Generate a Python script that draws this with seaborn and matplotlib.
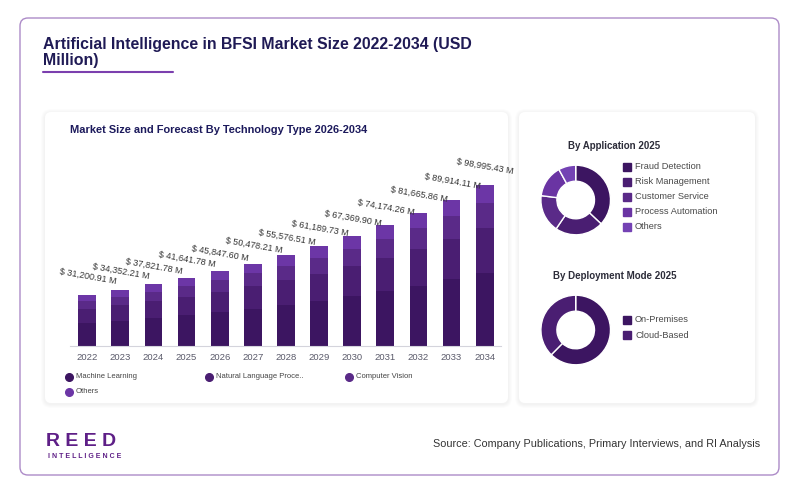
import matplotlib
matplotlib.use('Agg')
import matplotlib.pyplot as plt
from matplotlib.patches import FancyBboxPatch
import seaborn as sns
import pandas as pd

# --- data ---
years = ['2022', '2023', '2024', '2025', '2026', '2027', '2028',
         '2029', '2030', '2031', '2032', '2033', '2034']
totals = [31200.91, 34352.21, 37821.78, 41641.78, 45847.60, 50478.21, 55576.51,
          61189.73, 67369.90, 74174.26, 81665.86, 89914.11, 98995.43]
machine_learning = [13980, 15410, 16990, 18730, 20650, 22760, 25090,
                    27650, 30470, 33590, 37020, 40800, 44940]
natural_language = [8520, 9390, 10350, 11410, 12570, 13850, 15260,
                    16810, 18520, 20390, 22460, 24720, 27320]
computer_vision = [4870, 5370, 5920, 6520, 7190, 7920, 8730,
                   9610, 10590, 11670, 12850, 14150, 15840]
others = [3830.91, 4182.21, 4561.78, 4981.78, 5437.60, 5948.21, 6496.51,
          7119.73, 7789.90, 8524.26, 9335.86, 10244.11, 10895.43]
tech_labels = ['Machine Learning', 'Natural Language Proce..', 'Computer Vision', 'Others']

app_labels = ['Fraud Detection', 'Risk Management', 'Customer Service',
              'Process Automation', 'Others']
app_shares = [37.0, 22.5, 17.5, 15.0, 8.0]
dep_labels = ['On-Premises', 'Cloud-Based']
dep_shares = [62.4, 37.6]

seg_colors = ['#3c1561', '#4a1e72', '#5a2a88', '#6c36a6']
app_colors = ['#3c1561', '#4a1e72', '#5a2a88', '#6a34a3', '#7442b4']
dep_colors = ['#3c1561', '#4a1e72']

sns.set_style('white')
plt.rcParams['font.family'] = ['Liberation Sans', 'DejaVu Sans']

W, H = 800, 493
fig = plt.figure(figsize=(8, 4.93), dpi=100)
fig.patch.set_facecolor('white')

# background canvas in pixel units
bg = fig.add_axes([0, 0, 1, 1], zorder=0)
bg.set_xlim(0, W)
bg.set_ylim(H, 0)
bg.axis('off')


def box(x0, y0, x1, y1, r, fc, ec='none', lw=0, z=1, alpha=1):
    bg.add_patch(FancyBboxPatch((x0, y0), x1 - x0, y1 - y0,
                                boxstyle=f'round,pad=0,rounding_size={r}',
                                fc=fc, ec=ec, lw=lw, zorder=z, alpha=alpha))


box(20, 18, 779, 475, 8, 'white', ec='#ad8bc8', lw=1)
for (x0, y0, x1, y1) in [(45, 112, 508, 403), (519, 112, 755, 403)]:
    for k in range(4, 0, -1):
        box(x0 - k, y0 - k + 1, x1 + k, y1 + k + 1, 6 + k, '#000000', z=2, alpha=0.012)
    box(x0, y0, x1, y1, 6, 'white', z=3)

bg.text(43, 44, 'Artificial Intelligence in BFSI Market Size 2022-2034 (USD',
        fontsize=11.4, fontweight='bold', color='#1f1a55', va='center')
bg.text(43, 60.5, 'Million)', fontsize=11.4, fontweight='bold', color='#1f1a55',
        va='center')
bg.plot([43, 173], [72, 72], color='#7b3fae', lw=1.5)

bg.text(70.5, 130, 'Market Size and Forecast By Technology Type 2026-2034',
        fontsize=7.9, fontweight='bold', color='#1c1a5c', va='center', zorder=5)

# --- stacked bars ---
df = pd.DataFrame({'year': years, 'ml': machine_learning, 'nlp': natural_language,
                   'cv': computer_vision, 'oth': others})
df['l1'] = df['ml']
df['l2'] = df['l1'] + df['nlp']
df['l3'] = df['l2'] + df['cv']
df['l4'] = df['l3'] + df['oth']

ax = fig.add_axes([0.0875, 0.2988, 0.539, 0.397], zorder=4)
ax.patch.set_alpha(0)
for col, c in zip(['l4', 'l3', 'l2', 'l1'], seg_colors[::-1]):
    sns.barplot(data=df, x='year', y=col, color=c, width=0.535, saturation=1,
                edgecolor='none', linewidth=0, ax=ax)

for i, t in enumerate(totals):
    ax.annotate(f'$ {t:,.2f} M', (i, t), xytext=(0, 10), textcoords='offset points',
                ha='center', va='bottom', rotation=-10, rotation_mode='anchor',
                fontsize=6.5, color='#333333', annotation_clip=False)

ax.set_xlim(-0.52, 12.5)
ax.set_ylim(0, 120550)
ax.set_xlabel('')
ax.set_ylabel('')
ax.set_yticks([])
for s in ['top', 'right', 'left']:
    ax.spines[s].set_visible(False)
ax.spines['bottom'].set_color('#d4d4dc')
ax.tick_params(axis='x', length=0, pad=5.5, labelsize=6.8, labelcolor='#5a5a6a')

leg_pos = [(69, 376.7), (209, 376.7), (349, 376.7), (69, 391.7)]
for (x, y), lab, c in zip(leg_pos, tech_labels, seg_colors):
    bg.plot(x, y, 'o', ms=5.5, color=c, zorder=5)
    bg.text(x + 7, y, lab, fontsize=5.5, color='#444444', va='center', zorder=5)

# --- donuts ---
def donut(cx, cy, r, shares, colors):
    a = fig.add_axes([(cx - r) / W, (H - cy - r) / H, 2 * r / W, 2 * r / H], zorder=4)
    a.pie(shares, colors=colors, startangle=90, counterclock=False, radius=1,
          wedgeprops=dict(width=0.46, edgecolor='white', linewidth=1))
    a.set_xlim(-1.02, 1.02)
    a.set_ylim(-1.02, 1.02)
    return a


donut(575.7, 200, 35.5, app_shares, app_colors)
donut(575.7, 330, 35.5, dep_shares, dep_colors)

bg.text(614.5, 145.7, 'By Application 2025', ha='center', va='center', fontsize=7,
        fontweight='bold', color='#2d2d3a', zorder=5)
bg.text(615, 275.7, 'By Deployment Mode 2025', ha='center', va='center', fontsize=7,
        fontweight='bold', color='#2d2d3a', zorder=5)

for i, (lab, c) in enumerate(zip(app_labels, app_colors)):
    y = 166.7 + 15 * i
    bg.plot(627, y, 's', ms=6, color=c, zorder=5)
    bg.text(635, y, lab, fontsize=6.7, color='#4a4a4a', va='center', zorder=5)
for i, (lab, c) in enumerate(zip(dep_labels, dep_colors)):
    y = 320 + 15 * i
    bg.plot(627, y, 's', ms=6, color=c, zorder=5)
    bg.text(635, y, lab, fontsize=6.7, color='#4a4a4a', va='center', zorder=5)

# --- footer ---
bg.text(81.5, 441, 'R E E D', ha='center', va='center', fontsize=14,
        color='#5e1f87', fontweight='bold')
bg.text(85, 456, 'I N T E L L I G E N C E', ha='center', va='center', fontsize=5,
        color='#5e1f87', fontweight='bold')
bg.text(760, 444, 'Source: Company Publications, Primary Interviews, and RI Analysis',
        ha='right', va='center', fontsize=7.8, color='#333333')

plt.savefig('out.png', dpi=100)
plt.close()
